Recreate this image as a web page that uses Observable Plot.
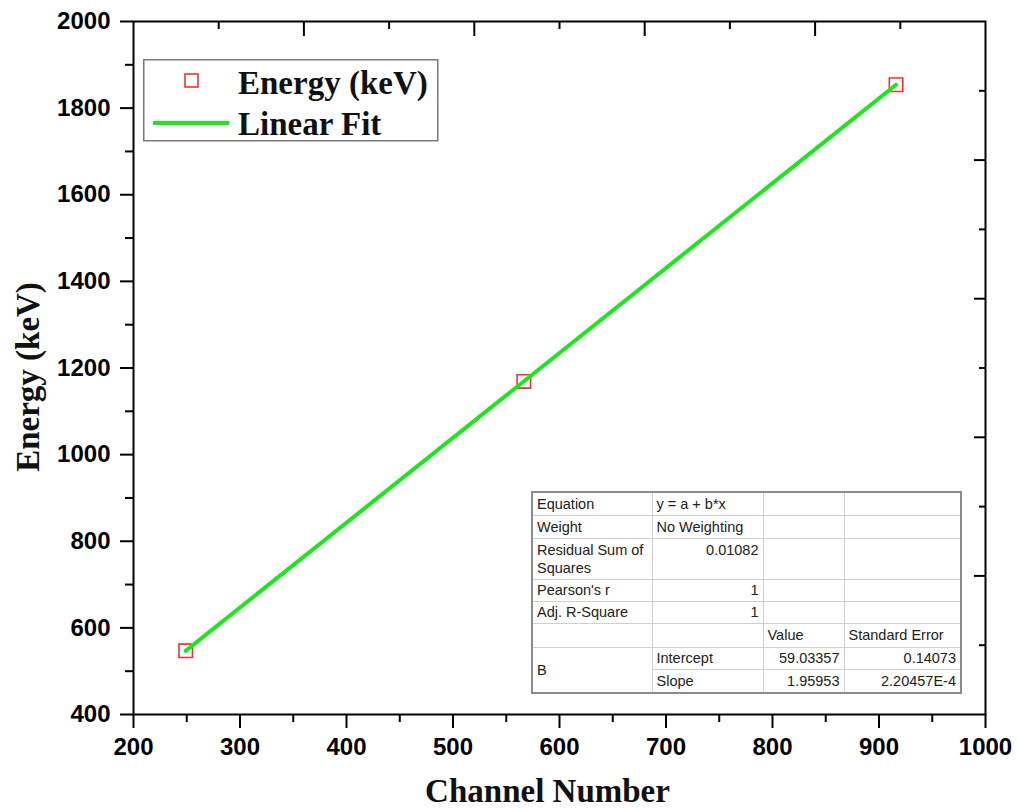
<!DOCTYPE html>
<html>
<head>
<meta charset="utf-8">
<script src="https://cdn.jsdelivr.net/npm/d3@7"></script>
<script src="https://cdn.jsdelivr.net/npm/@observablehq/plot@0.6"></script>
<style>
  body { margin: 0; background: #fff; }
  #wrap { position: relative; width: 1018px; height: 809px; overflow: hidden; }
  #legend { position: absolute; left: 143px; top: 59px; }
  #stats {
    position: absolute; left: 531px; top: 491px;
    border-collapse: collapse; table-layout: fixed; width: 429px;
    border: 2px solid #8c8c8c; background: #fff;
    font: 14.5px "Liberation Sans", Arial, sans-serif; color: #222;
  }
  #stats td { border: 1px solid #d0d0d0; padding: 0 4px; white-space: nowrap; vertical-align: middle; line-height: 18px; }
  #stats td.num { text-align: right; }
  #stats td.top { vertical-align: top; padding-top: 2px; white-space: normal; }
</style>
</head>
<body>
<div id="wrap"></div>
<script>
// Calibration points: channel number vs. gamma energy
const channels = [249, 566.5, 916];
const energies = [547, 1169, 1854];

// Linear fit results (y = a + b*x)
const fitIntercept = 59.03357;
const fitSlope = 1.95953;
const fitInterceptErr = "0.14073";
const fitSlopeErr = "2.20457E-4";
const residualSS = "0.01082";
const pearsonR = "1";
const adjR2 = "1";

// Axis ticks
const xMajor = [200, 300, 400, 500, 600, 700, 800, 900, 1000];
const xMinor = [250, 350, 450, 550, 650, 750, 850, 950];
const yMajor = [400, 600, 800, 1000, 1200, 1400, 1600, 1800, 2000];
const yMinor = [500, 700, 900, 1100, 1300, 1500, 1700, 1900];
// Opposite (top / right) axes carry their own ten-division ticks
const topMajor = [360, 520, 680, 840];
const topMinor = [280, 440, 600, 760, 920];
const rightMajor = [1680, 1360, 1040, 720];
const rightMinor = [1840, 1520, 1200, 880, 560];

const seriesLabel = "Energy (keV)";
const fitLabel = "Linear Fit";
const xTitle = "Channel Number";
const yTitle = "Energy (keV)";

const points = channels.map((c, i) => ({channel: c, energy: energies[i]}));
const fitEnds = [channels[0], channels[channels.length - 1]];
const fitLine = fitEnds.map(c => ({channel: c, energy: fitIntercept + fitSlope * c}));

const tickFont = {fontSize: 24, fontWeight: "bold", fontFamily: "'Liberation Sans', Arial, sans-serif"};
const titleFont = {fontSize: 33, fontWeight: "bold", fontFamily: "'Liberation Serif', 'Times New Roman', serif", fill: "#111"};

const chart = Plot.plot({
  width: 1018,
  height: 809,
  marginLeft: 133,
  marginRight: 33,
  marginTop: 21,
  marginBottom: 95,
  x: {domain: [200, 1000]},
  y: {domain: [400, 2000]},
  style: {background: "white", color: "black"},
  marks: [
    Plot.frame({stroke: "black", strokeWidth: 2}),
    // bottom axis
    Plot.axisX({ticks: xMajor, tickSize: 14, tickPadding: 9, strokeWidth: 2, label: null, tickFormat: d => String(d), ...tickFont}),
    Plot.axisX({ticks: xMinor, tickSize: 8, strokeWidth: 2, fill: "none", label: null}),
    // left axis
    Plot.axisY({ticks: yMajor, tickSize: 13, tickPadding: 10, strokeWidth: 2, label: null, tickFormat: d => String(d), ...tickFont}),
    Plot.axisY({ticks: yMinor, tickSize: 8, strokeWidth: 2, fill: "none", label: null}),
    // top and right axes with inward ticks
    Plot.axisX({anchor: "top", ticks: topMajor, tickSize: -14, strokeWidth: 2, fill: "none", label: null}),
    Plot.axisX({anchor: "top", ticks: topMinor, tickSize: -7, strokeWidth: 2, fill: "none", label: null}),
    Plot.axisY({anchor: "right", ticks: rightMajor, tickSize: -12, strokeWidth: 2, fill: "none", label: null}),
    Plot.axisY({anchor: "right", ticks: rightMinor, tickSize: -7, strokeWidth: 2, fill: "none", label: null}),
    // axis titles
    Plot.text([xTitle], {frameAnchor: "bottom", dy: 87, dx: -12, ...titleFont}),
    Plot.text([yTitle], {frameAnchor: "left", textAnchor: "middle", dx: -105, dy: 9, rotate: -90, ...titleFont}),
    // data and fit
    Plot.dot(points, {x: "channel", y: "energy", symbol: "square", r: 7.6, stroke: "#ee3333", strokeWidth: 1.6, fill: "none"}),
    Plot.line(fitLine, {x: "channel", y: "energy", stroke: "#1ee61e", strokeWidth: 4})
  ]
});

const wrap = document.getElementById("wrap");
wrap.appendChild(chart);

// Legend box
const legend = d3.select(wrap).append("svg")
  .attr("id", "legend").attr("width", 296).attr("height", 84);
legend.append("rect").attr("x", 0.75).attr("y", 0.75).attr("width", 294).attr("height", 81)
  .attr("fill", "white").attr("stroke", "#7a7a7a").attr("stroke-width", 1.5);
legend.append("rect").attr("x", 42).attr("y", 15).attr("width", 13).attr("height", 13)
  .attr("fill", "none").attr("stroke", "#ee3333").attr("stroke-width", 1.6);
legend.append("line").attr("x1", 10).attr("x2", 86).attr("y1", 64).attr("y2", 64)
  .attr("stroke", "#1ee61e").attr("stroke-width", 4);
[[seriesLabel, 24], [fitLabel, 65]].forEach(([t, y]) => {
  legend.append("text").attr("x", 95).attr("y", y).attr("dominant-baseline", "central")
    .attr("font-family", "'Liberation Serif', 'Times New Roman', serif")
    .attr("font-size", 33).attr("font-weight", "bold").attr("fill", "#111").text(t);
});

// Fit statistics table
const rowHeights = [23, 23, 41, 22, 22, 24, 22, 24];
const statsHtml = `
<colgroup><col style="width:120px"><col style="width:111px"><col style="width:81px"><col style="width:117px"></colgroup>
<tr style="height:${rowHeights[0]}px"><td>Equation</td><td>y = a + b*x</td><td></td><td></td></tr>
<tr style="height:${rowHeights[1]}px"><td>Weight</td><td>No Weighting</td><td></td><td></td></tr>
<tr style="height:${rowHeights[2]}px"><td class="top">Residual Sum of Squares</td><td class="num top">${residualSS}</td><td></td><td></td></tr>
<tr style="height:${rowHeights[3]}px"><td>Pearson's r</td><td class="num">${pearsonR}</td><td></td><td></td></tr>
<tr style="height:${rowHeights[4]}px"><td>Adj. R-Square</td><td class="num">${adjR2}</td><td></td><td></td></tr>
<tr style="height:${rowHeights[5]}px"><td></td><td></td><td>Value</td><td>Standard Error</td></tr>
<tr style="height:${rowHeights[6]}px"><td rowspan="2">B</td><td>Intercept</td><td class="num">${fitIntercept.toFixed(5)}</td><td class="num">${fitInterceptErr}</td></tr>
<tr style="height:${rowHeights[7]}px"><td>Slope</td><td class="num">${fitSlope.toFixed(5)}</td><td class="num">${fitSlopeErr}</td></tr>`;
d3.select(wrap).append("table").attr("id", "stats").html(statsHtml);
</script>
</body>
</html>
